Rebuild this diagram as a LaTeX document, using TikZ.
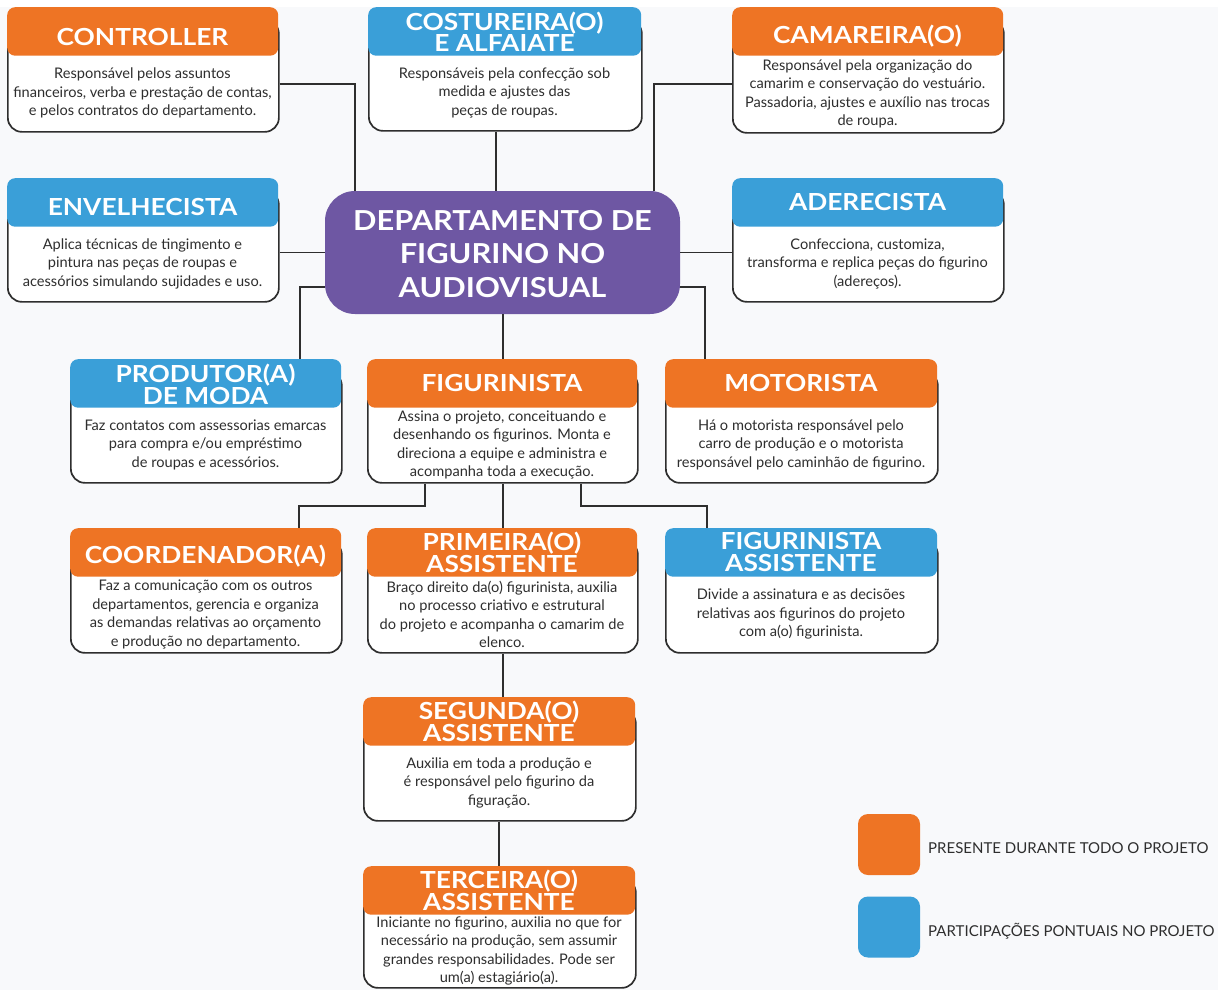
\documentclass[tikz,border=0pt]{standalone}
\usepackage{fontspec}
\setmainfont{Lato}
\newfontfamily\titlefont{Lato}[FakeStretch=1.12]
\usetikzlibrary{calc}
\definecolor{orng}{HTML}{EE7424}
\definecolor{blu}{HTML}{3A9FD8}
\definecolor{purp}{HTML}{6E57A3}
\definecolor{bgc}{HTML}{F8F9FB}
\definecolor{ink}{HTML}{2E2E2E}
\tikzset{
  bodybox/.style={draw=ink, line width=1.7pt, fill=white, rounded corners=14pt, inner sep=0pt},
  headbox/.style={rounded corners=8pt, inner sep=0pt, draw=none},
  titletext/.style={text=white, align=center, inner sep=0pt, anchor=base, font=\titlefont\bfseries\fontsize{23.5}{21.5}\selectfont},
  bodytext/.style={text=ink, align=center, inner sep=0pt, font=\fontsize{14.6}{18.5}\selectfont},
  conn/.style={draw=ink, line width=1.7pt},
  legsq/.style={rounded corners=10pt, minimum width=62pt, minimum height=61pt, inner sep=0pt},
  legtext/.style={text=ink, anchor=west, inner sep=0pt, font=\fontsize{15}{17}\selectfont}
}
% name, x1, x2, header top, title (last line) baseline, body bottom, colour, title, text
\newcommand\card[9]{%
  \node[bodybox, anchor=north west, minimum width={#3-#2}, minimum height={#6-#4-12}] (#1B) at (#2,{#4+12}) {};
  \node[headbox, fill=#7, anchor=north west, minimum width={#3-#2}, minimum height=48.5] (#1) at (#2,#4) {};
  \node[titletext] (#1T) at ({(#2+#3)/2},#5) {#8};
  \node[bodytext] (#1D) at ({(#2+#3)/2},{(#4+48.5+#6)/2}) {#9};
}
\begin{document}
\begin{tikzpicture}[x=1pt,y=-1pt]
\fill[white] (0,0) rectangle (1228,990);
\fill[bgc] (0,7) rectangle (1218,990);
\useasboundingbox (0,0) rectangle (1228,990);

\node[fill=purp, rounded corners=30pt, minimum width=355pt, minimum height=123pt, inner sep=0pt] (dept) at (502.5,252.5) {};
\node[text=white, align=center, inner sep=0pt, font=\titlefont\bfseries\fontsize{27.5}{33.5}\selectfont] (deptT) at (502.5,254) {DEPARTAMENTO DE\\FIGURINO NO\\AUDIOVISUAL};

\card{controller}{7}{278}{7}{46}{131}{orng}{CONTROLLER}{Responsável pelos assuntos\\financeiros, verba e prestação de contas,\\e pelos contratos do departamento.}
\card{costureira}{368}{641}{7}{52}{130}{blu}{COSTUREIRA(O)\\E ALFAIATE}{Responsáveis pela confecção sob\\medida e ajustes das\\peças de roupas.}
\card{camareira}{732}{1003}{7}{44}{132}{orng}{CAMAREIRA(O)}{Responsável pela organização do\\camarim e conservação do vestuário.\\Passadoria, ajustes e auxílio nas trocas\\de roupa.}
\card{envelhecista}{7}{278}{178}{215}{301}{blu}{ENVELHECISTA}{Aplica técnicas de tingimento e\\pintura nas peças de roupas e\\acessórios simulando sujidades e uso.}
\card{aderecista}{732}{1003}{178}{210}{301}{blu}{ADERECISTA}{Confecciona, customiza,\\transforma e replica peças do figurino\\(adereços).}
\card{produtor}{70}{341}{359}{404}{482}{blu}{PRODUTOR(A)\\DE MODA}{Faz contatos com assessorias emarcas\\para compra e/ou empréstimo\\de roupas e acessórios.}
\card{figurinista}{367}{637}{359}{391}{482}{orng}{FIGURINISTA}{Assina o projeto, conceituando e\\desenhando os figurinos. Monta e\\direciona a equipe e administra e\\acompanha toda a execução.}
\card{motorista}{665}{937}{359}{391}{482}{orng}{MOTORISTA}{Há o motorista responsável pelo\\carro de produção e o motorista\\responsável pelo caminhão de figurino.}
\card{coordenador}{70}{341}{528}{563}{652}{orng}{COORDENADOR(A)}{Faz a comunicação com os outros\\departamentos, gerencia e organiza\\as demandas relativas ao orçamento\\e produção no departamento.}
\card{primeira}{367}{637}{528}{572}{652}{orng}{PRIMEIRA(O)\\ASSISTENTE}{Braço direito da(o) figurinista, auxilia\\no processo criativo e estrutural\\do projeto e acompanha o camarim de\\elenco.}
\card{figassist}{665}{937}{528}{571}{652}{blu}{FIGURINISTA\\ASSISTENTE}{Divide a assinatura e as decisões\\relativas aos figurinos do projeto\\com a(o) figurinista.}
\card{segunda}{363}{635}{697}{741}{820}{orng}{SEGUNDA(O)\\ASSISTENTE}{Auxilia em toda a produção e\\é responsável pelo figurino da\\figuração.}
\card{terceira}{363}{635}{866}{910}{987}{orng}{TERCEIRA(O)\\ASSISTENTE}{Iniciante no figurino, auxilia no que for\\necessário na produção, sem assumir\\grandes responsabilidades. Pode ser\\um(a) estagiário(a).}

% junction coordinates
\coordinate (j1) at (355,84);
\coordinate (j2) at (496,0);
\coordinate (j3) at (654,84);
\coordinate (j4) at (300,287);
\coordinate (j5) at (705,287);
\coordinate (j6) at (425,506);
\coordinate (j7) at (299,506);
\coordinate (j8) at (581,506);
\coordinate (j9) at (707,506);
\coordinate (j10) at (503,0);
\coordinate (j11) at (499,0);

\draw[conn] (controllerB.east |- j1) -| (dept.north -| j1);
\draw[conn] (costureiraB.south -| j2) -- (dept.north -| j2);
\draw[conn] (camareiraB.west |- j3) -| (dept.north -| j3);
\draw[conn] (envelhecistaB.east |- dept.west) -- (dept.west);
\draw[conn] (dept.east) -- (aderecistaB.west |- dept.east);
\draw[conn] (dept.west |- j4) -| (produtor.north -| j4);
\draw[conn] (dept.south -| j10) -- (figurinista.north -| j10);
\draw[conn] (dept.east |- j5) -| (motorista.north -| j5);
\draw[conn] (figurinistaB.south -| j6) |- (j7) -- (coordenador.north -| j7);
\draw[conn] (figurinistaB.south -| j10) -- (primeira.north -| j10);
\draw[conn] (figurinistaB.south -| j8) |- (j9) -- (figassist.north -| j9);
\draw[conn] (primeiraB.south -| j10) -- (segunda.north -| j10);
\draw[conn] (segundaB.south -| j11) -- (terceira.north -| j11);

\node[legsq, fill=orng] (leg1) at (889,844.5) {};
\node[legsq, fill=blu] (leg2) at (889,927) {};
\node[legtext] (leg1T) at (928,848) {PRESENTE DURANTE TODO O PROJETO};
\node[legtext] (leg2T) at (928,931) {PARTICIPAÇÕES PONTUAIS NO PROJETO};
\end{tikzpicture}
\end{document}
